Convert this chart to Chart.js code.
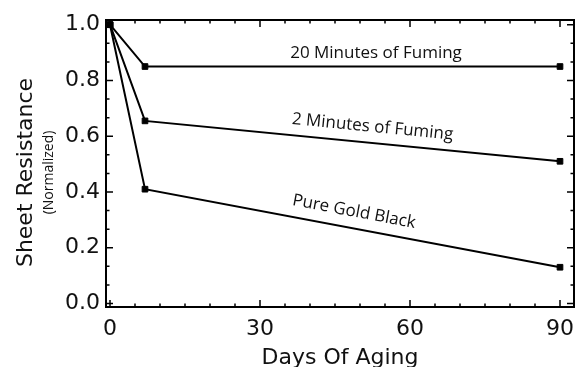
<!DOCTYPE html>
<html>
<head>
<meta charset="utf-8">
<script src="https://cdn.jsdelivr.net/npm/chart.js@4.4.0/dist/chart.umd.min.js"></script>
<style>
  html, body { margin: 0; padding: 0; background: #fff; }
  #wrap { width: 579px; height: 367px; }
</style>
</head>
<body>
<div id="wrap"><canvas id="plot_aging"></canvas></div>
<script>
// values
const days = [0, 7, 90];
const fuming20 = [1.0, 0.85, 0.85];
const fuming2 = [1.0, 0.655, 0.51];
const pureGold = [1.0, 0.41, 0.13];
const seriesNames = ['20 Minutes of Fuming', '2 Minutes of Fuming', 'Pure Gold Black'];
const xTicks = [0, 30, 60, 90];
const yTicks = [0.0, 0.2, 0.4, 0.6, 0.8, 1.0];

function createData(xValues, yValues) {
    return xValues.map((x, i) => ({ x: x, y: yValues[i] }));
}

// box round the plot, inward ticks on all four sides
const framePlugin = {
    id: 'frame',
    beforeDatasetsDraw(chart) {
        const { ctx, chartArea: a, scales: { x, y } } = chart;
        ctx.save();
        ctx.strokeStyle = '#000';
        ctx.lineWidth = 2;
        ctx.strokeRect(a.left, a.top, a.right - a.left, a.bottom - a.top);
        ctx.lineWidth = 1.5;
        ctx.beginPath();
        for (let v = 0; v <= 90; v += 5) {
            const px = x.getPixelForValue(v);
            const len = v % 30 === 0 ? 7 : 3.5;
            ctx.moveTo(px, a.bottom); ctx.lineTo(px, a.bottom - len);
            ctx.moveTo(px, a.top); ctx.lineTo(px, a.top + len);
        }
        for (let i = 0; i <= 15; i++) {
            const py = y.getPixelForValue(i * 0.2 / 3);
            const len = i % 3 === 0 ? 7 : 3.5;
            ctx.moveTo(a.left, py); ctx.lineTo(a.left + len, py);
            ctx.moveTo(a.right, py); ctx.lineTo(a.right - len, py);
        }
        ctx.stroke();
        ctx.restore();
    }
};

// series names written along their lines
const lineLabelPlugin = {
    id: 'lineLabels',
    afterDatasetsDraw(chart, args, opts) {
        const { ctx, scales: { x, y } } = chart;
        ctx.save();
        ctx.fillStyle = '#111';
        ctx.font = opts.font;
        ctx.textAlign = 'center';
        ctx.textBaseline = 'middle';
        chart.data.datasets.forEach((ds, i) => {
            const pts = chart.getDatasetMeta(i).data;
            const angle = Math.atan2(pts[2].y - pts[1].y, pts[2].x - pts[1].x);
            const [ax, ay] = opts.anchors[i];
            ctx.save();
            ctx.translate(x.getPixelForValue(ax), y.getPixelForValue(ay));
            ctx.rotate(angle);
            ctx.fillText(ds.label, 0, 0);
            ctx.restore();
        });
        ctx.restore();
    }
};

// y title with the small "(Normalized)" under it
const yTitlePlugin = {
    id: 'yTitle',
    afterDraw(chart) {
        const ctx = chart.ctx;
        const cy = (chart.chartArea.top + chart.chartArea.bottom) / 2 + 9;
        ctx.save();
        ctx.fillStyle = '#111';
        ctx.textAlign = 'center';
        ctx.textBaseline = 'alphabetic';
        ctx.translate(32, cy);
        ctx.rotate(-Math.PI / 2);
        ctx.font = '22px "DejaVu Sans"';
        ctx.fillText('Sheet Resistance', 0, 0);
        ctx.font = '14px "Open Sans"';
        ctx.fillText('(Normalized)', 0, 21);
        ctx.restore();
    }
};

const ctx = document.getElementById('plot_aging').getContext('2d');

const lineStyle = {
    borderColor: '#000',
    borderWidth: 2,
    pointStyle: 'rect',
    pointRadius: 4,
    pointBorderWidth: 1,
    pointBackgroundColor: '#000',
    pointBorderColor: '#000',
    tension: 0,
    clip: false,
};

const plot_aging = new Chart(ctx, {
    type: 'line',
    data: {
        datasets: [
            { label: seriesNames[0], data: createData(days, fuming20), ...lineStyle },
            { label: seriesNames[1], data: createData(days, fuming2), ...lineStyle },
            { label: seriesNames[2], data: createData(days, pureGold), ...lineStyle },
        ],
    },
    options: {
        responsive: true,
        maintainAspectRatio: false,
        animation: false,
        layout: { padding: { top: 20, right: 4, left: 0, bottom: 0 } },
        scales: {
            x: {
                type: 'linear',
                min: -0.8,
                max: 92.8,
                grid: { display: false, drawTicks: false },
                border: { display: false },
                afterBuildTicks: s => { s.ticks = xTicks.map(v => ({ value: v })); },
                afterFit: s => { s.height = 60; s.paddingLeft = 0; s.paddingRight = 0; },
                ticks: {
                    color: '#111',
                    padding: 9,
                    maxRotation: 0,
                    autoSkip: false,
                    font: { family: 'DejaVu Sans', size: 22 },
                },
                title: {
                    display: true,
                    text: 'Days Of Aging',
                    color: '#111',
                    padding: { top: 0, bottom: -2 },
                    font: { family: 'DejaVu Sans', size: 22, lineHeight: 1 },
                }
            },
            y: {
                min: -0.0126,
                max: 1.0169,
                grid: { display: false, drawTicks: false },
                border: { display: false },
                afterBuildTicks: s => { s.ticks = yTicks.map(v => ({ value: v })); },
                afterFit: s => { s.width = 106; s.paddingTop = 0; s.paddingBottom = 0; },
                ticks: {
                    color: '#111',
                    padding: 6,
                    autoSkip: false,
                    font: { family: 'DejaVu Sans', size: 22 },
                    callback: v => v.toFixed(1),
                }
            }
        },
        plugins: {
            legend: { display: false },
            tooltip: { enabled: false },
            lineLabels: {
                font: '17px "Open Sans"',
                anchors: [[53.2, 0.897], [52.5, 0.633], [48.8, 0.329]],
            }
        }
    },
    plugins: [framePlugin, lineLabelPlugin, yTitlePlugin]
});
</script>
</body>
</html>
